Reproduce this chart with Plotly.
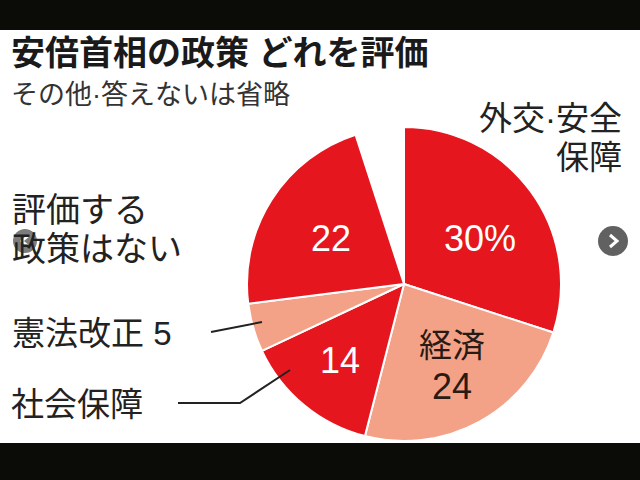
import plotly.graph_objects as go

# ---- data ----
categories = ["外交・安全保障", "経済", "社会保障", "憲法改正", "評価する政策はない", "その他・答えない"]
values = [30, 24, 14, 5, 22, 5]
title_text = "安倍首相の政策 どれを評価"
subtitle_text = "その他·答えないは省略"

# ---- style ----
RED = "#E5161D"
SALMON = "#F3A287"
slice_colors = [RED, SALMON, RED, SALMON, RED, "rgba(255,255,255,0)"]
FONT = "Liberation Sans, Noto Sans CJK JP"
W, H = 640, 480

def px(x):
    return x / W

def py(y):
    return 1 - y / H

cx, cy, r = 404, 284, 157

fig = go.Figure()
fig.add_trace(go.Pie(
    labels=categories,
    values=values,
    sort=False,
    direction="clockwise",
    rotation=0,
    marker=dict(colors=slice_colors,
                line=dict(color=["white"] * 5 + ["rgba(255,255,255,0)"], width=2)),
    textinfo="none",
    hoverinfo="label+value",
    showlegend=False,
    domain=dict(x=[px(cx - r), px(cx + r)], y=[py(cy + r), py(cy - r)]),
))

ann = []
def A(x, y, text, size, color="#222", xanchor="left", bold=False, align="left", family=FONT):
    ann.append(dict(x=px(x), y=py(y), xref="paper", yref="paper", text=(f"<b>{text}</b>" if bold else text),
                    showarrow=False, xanchor=xanchor, yanchor="middle", align=align,
                    font=dict(family=family, size=size, color=color)))

# titles
A(9, 53, title_text, 34, "#1a1a1a", bold=True)
A(9, 95, subtitle_text, 27, "#333")

# outside labels (one annotation per printed line)
A(624, 118, "外交·安全", 33, "#222", xanchor="right")
A(624, 157, "保障", 33, "#222", xanchor="right")
A(10, 210, "評価する", 34, "#222")
A(10, 249, "政策はない", 34, "#222")
A(10, 333, f"{categories[3]} {values[3]}", 33, "#222")
A(9, 404, categories[2], 33, "#222")

# inside labels
A(480, 238, f"{values[0]}%", 36, "white", xanchor="center")
A(331, 238, f"{values[4]}", 36, "white", xanchor="center")
A(340, 360, f"{values[2]}", 36, "white", xanchor="center")
A(452, 345, categories[1], 33, "#2a1a14", xanchor="center")
A(452, 386, f"{values[1]}", 36, "#2a1a14", xanchor="center")

shapes = [
    # black bands
    dict(type="rect", xref="paper", yref="paper", x0=0, x1=1, y0=py(30), y1=1,
         fillcolor="#0b0b08", line=dict(width=0), layer="above"),
    dict(type="rect", xref="paper", yref="paper", x0=0, x1=1, y0=0, y1=py(443),
         fillcolor="#0b0b08", line=dict(width=0), layer="above"),
    # leader lines
    dict(type="line", xref="paper", yref="paper", x0=px(211), y0=py(332), x1=px(262), y1=py(322),
         line=dict(color="#222", width=2), layer="above"),
    dict(type="path", xref="paper", yref="paper",
         path=f"M {px(178)} {py(403)} L {px(240)} {py(403)} L {px(290)} {py(370)}",
         line=dict(color="#222", width=2), layer="above"),
    # nav circles (overlay buttons)
    dict(type="circle", xref="paper", yref="paper", x0=px(598), x1=px(628), y0=py(256), y1=py(226),
         fillcolor="rgba(80,80,80,0.9)", line=dict(width=0), layer="above"),
    dict(type="path", xref="paper", yref="paper",
         path=f"M {px(610)} {py(235)} L {px(617)} {py(241)} L {px(610)} {py(247)}",
         line=dict(color="white", width=3), layer="above"),
    dict(type="circle", xref="paper", yref="paper", x0=px(13), x1=px(37), y0=py(253), y1=py(229),
         fillcolor="rgba(80,80,80,0.75)", line=dict(width=0), layer="above"),
    dict(type="path", xref="paper", yref="paper",
         path=f"M {px(28)} {py(236)} L {px(22)} {py(241)} L {px(28)} {py(246)}",
         line=dict(color="white", width=2.5), layer="above"),
]

fig.update_layout(
    width=W, height=H,
    margin=dict(l=0, r=0, t=0, b=0),
    paper_bgcolor="white",
    plot_bgcolor="white",
    annotations=ann,
    shapes=shapes,
)

fig.write_html("out.html", config={"displayModeBar": False},
               post_script="document.body.style.margin='0';document.body.style.overflow='hidden';")
